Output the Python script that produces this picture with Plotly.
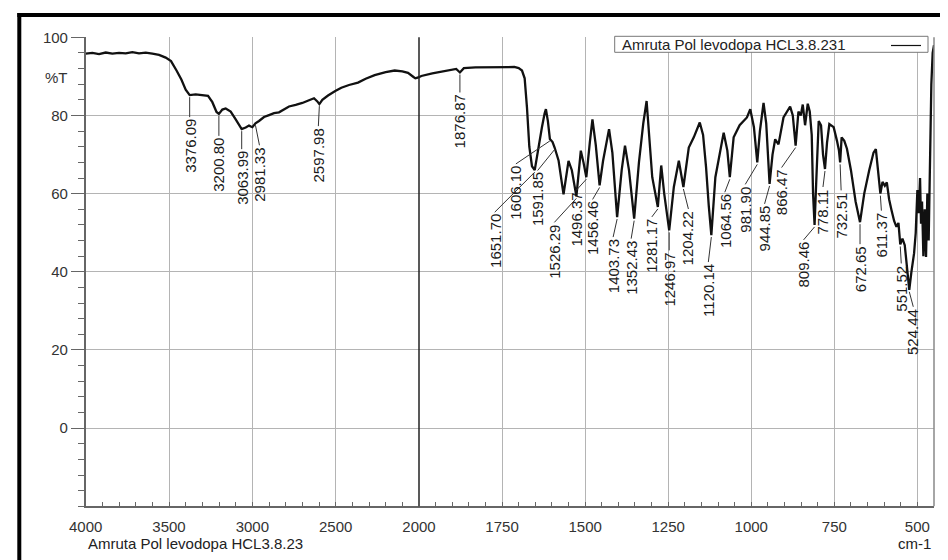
import plotly.graph_objects as go

# ---------------- data ----------------
wavenumber = [
    4000, 3960, 3920, 3880, 3840, 3800, 3760, 3720, 3680, 3640, 3600, 3560, 3520, 3488, 3455, 3426,
    3400, 3376.09, 3340, 3300, 3266, 3240, 3215, 3200.80, 3180, 3160, 3130, 3100, 3063.99, 3040,
    3020, 3000, 2981.33, 2960, 2930, 2900, 2870, 2840, 2810, 2780, 2740, 2700, 2660, 2630, 2610,
    2597.98, 2580, 2546, 2500, 2466, 2420, 2366, 2320, 2266, 2200, 2146, 2100, 2066, 2035, 2022,
    2000, 1993, 1960, 1933, 1900, 1888, 1876.87, 1865, 1830, 1783, 1740, 1713, 1700, 1690, 1682,
    1675, 1668, 1660, 1651.70, 1645, 1638, 1630, 1622, 1618, 1612, 1606.10, 1598, 1591.85, 1580,
    1565, 1550, 1540, 1526.29, 1513, 1505, 1496.37, 1486, 1478, 1468, 1456.46, 1446, 1428, 1418,
    1403.73, 1390, 1380, 1368, 1352.43, 1338, 1325, 1315, 1306, 1298, 1281.17, 1271, 1262, 1246.97,
    1233, 1218, 1204.22, 1188, 1173, 1155, 1145, 1136, 1128, 1120.14, 1108, 1095, 1083, 1072,
    1064.56, 1053, 1035, 1013, 1003, 992, 981.90, 974, 963, 955, 944.85, 936, 928, 918, 903, 883,
    875, 866.47, 858, 851, 845, 838, 830, 824, 818, 814, 809.46, 804, 797, 790, 784, 778.11, 772,
    765, 752, 742, 736, 732.51, 728, 720, 712, 700, 686, 672.65, 660, 645, 632, 625, 618, 611.37,
    605, 598, 592, 585, 578, 570, 563, 557, 551.52, 545, 538, 530, 524.44, 518, 510, 505, 500, 496,
    492, 489, 486, 482, 478, 474, 470, 466, 462, 458, 454, 450,
]
transmittance = [
    95.8, 96.0, 95.7, 96.1, 95.8, 96.0, 95.9, 96.2, 95.9, 96.1, 95.8, 95.5, 94.8, 93.9, 91.5, 89.2,
    86.6, 85.2, 85.4, 85.1, 85.0, 83.4, 80.9, 80.4, 81.5, 81.8, 81.0, 79.0, 76.5, 76.9,
    77.4, 77.0, 78.0, 78.6, 79.6, 80.1, 80.6, 80.8, 81.5, 82.3, 82.7, 83.2, 83.9, 84.4, 83.6,
    82.9, 84.0, 85.1, 86.3, 87.1, 87.8, 88.4, 89.4, 90.3, 91.1, 91.5, 91.3, 90.9, 89.9, 89.5,
    89.8, 90.1, 90.8, 91.2, 91.6, 91.9, 91.0, 92.1, 92.3, 92.4, 92.5, 92.4, 92.1, 91.5, 89.5,
    82.0, 72.0, 67.0, 66.0, 69.5, 73.5, 77.0, 80.5, 81.6, 78.5, 74.0, 73.2, 71.8, 68.5,
    59.8, 68.4, 66.0, 59.3, 71.0, 68.0, 64.2, 73.0, 79.0, 72.5, 62.1, 68.4, 76.5, 70.5,
    54.0, 66.0, 72.3, 66.0, 53.6, 68.0, 78.0, 83.7, 72.0, 64.2, 56.6, 67.2, 60.0, 50.6,
    61.7, 68.4, 61.7, 71.8, 74.4, 78.2, 75.0, 66.7, 57.0, 49.4, 64.2, 70.0, 75.6, 71.0,
    64.2, 74.4, 77.5, 79.5, 81.6, 77.0, 68.0, 76.0, 83.2, 78.0, 62.5, 70.0, 73.9, 72.6, 79.5, 82.3,
    80.0, 72.3, 81.0, 80.0, 82.8, 77.5, 83.0, 81.0, 75.0, 60.0, 52.0, 64.0, 78.6, 77.5, 70.0, 66.3, 73.0,
    77.8, 77.0, 73.5, 71.0, 68.0, 74.4, 73.5, 71.5, 66.0, 58.0, 52.7, 60.0, 66.0, 70.5, 71.4, 66.0, 60.0,
    63.0, 62.0, 62.9, 58.5, 55.8, 53.0, 51.5, 52.5, 47.0, 48.5, 46.8, 40.0, 35.4, 40.0, 44.7, 50.0, 60.9, 55.0,
    64.0, 52.3, 58.0, 44.0, 56.0, 43.8, 60.0, 48.0, 72.0, 88.0, 96.0, 98.0,
]

peak_wavenumbers = [
    3376.09, 3200.80, 3063.99, 2981.33, 2597.98, 1876.87, 1651.70, 1606.10, 1591.85, 1526.29,
    1496.37, 1456.46, 1403.73, 1352.43, 1281.17, 1246.97, 1204.22, 1120.14, 1064.56, 981.90,
    944.85, 866.47, 809.46, 778.11, 732.51, 672.65, 611.37, 551.52, 524.44,
]

x_ticks_left = [4000, 3500, 3000, 2500]
x_ticks_right = [2000, 1750, 1500, 1250, 1000, 750, 500]
y_ticks = [0, 20, 40, 60, 80, 100]
sample_name = "Amruta Pol levodopa HCL3.8.231"
footer_name = "Amruta Pol levodopa HCL3.8.23"
x_unit = "cm-1"
y_title = "%T"

# ---------------- layout settings: pixel offset (dx, dy) from each peak to the top of its label ----------------
label_offsets = [
    (0, 22), (0, 22), (0, 20), (4, 22), (-1, 22), (0, 20), (-40, 42), (-34, 25), (-17, 23), (-22, 26),
    (-10, 13), (-7, 14), (-4, 20), (-3, 20), (-6, 10), (0, 20), (5, 22), (-3, 27), (-5, 15), (-12, 22),
    (-5, 20), (-14, 22), (-11, 15), (-2, 18), (1, 28), (0, 22), (1, 17), (1, 19), (4, 17),
]

W, H = 948, 560
FONT = "Liberation Sans, Arial, sans-serif"
px_x = lambda p: p / W
px_y = lambda p: 1 - p / H

x_left, x_mid, x_right = px_x(77.7), px_x(411.0), px_x(926.0)
y_bot, y_top = px_y(498.3), px_y(29.3)

GRID = "#b4b4b4"
AXIS = "#666666"

fig = go.Figure()
for xa in ("x", "x2"):
    fig.add_trace(go.Scatter(
        x=wavenumber, y=transmittance, mode="lines", xaxis=xa, yaxis="y",
        line=dict(color="#111111", width=2.3), showlegend=False, hoverinfo="x+y",
    ))

common_x = dict(
    ticks="inside", ticklen=5, tickcolor=AXIS, tickwidth=1,
    showline=True, linecolor=AXIS, linewidth=1.5,
    showgrid=True, gridcolor=GRID, gridwidth=1.3, zeroline=False,
    tickfont=dict(family=FONT, size=15, color="#333333"),
    anchor="y", ticklabelstandoff=6,
)
fig.update_layout(
    width=W, height=H,
    margin=dict(l=0, r=0, t=0, b=0, autoexpand=False),
    paper_bgcolor="white", plot_bgcolor="white",
    xaxis=dict(domain=[x_left, x_mid], range=[4000, 2000], tickmode="array", tickvals=x_ticks_left,
               minor=dict(tickmode="linear", tick0=0, dtick=100, ticks="inside", ticklen=5,
                          tickcolor=AXIS, showgrid=False),
               **common_x),
    xaxis2=dict(domain=[x_mid, x_right], range=[2000, 450], tickmode="array", tickvals=x_ticks_right,
                minor=dict(tickmode="linear", tick0=0, dtick=50, ticks="inside", ticklen=5,
                           tickcolor=AXIS, showgrid=False),
                **common_x),
    yaxis=dict(domain=[y_bot, y_top], range=[-20, 100], tickmode="array", tickvals=y_ticks,
               ticks="outside", ticklen=13, tickcolor=AXIS, tickwidth=1,
               showline=True, linecolor=AXIS, linewidth=1.5,
               showgrid=True, gridcolor=GRID, gridwidth=1.3, zeroline=False,
               minor=dict(tickmode="linear", tick0=0, dtick=4, ticks="outside", ticklen=6,
                          tickcolor=AXIS, showgrid=False),
               tickfont=dict(family=FONT, size=15, color="#333333"), anchor="x"),
    font=dict(family=FONT),
)

shapes = [
    # dark break line at 2000 cm-1
    dict(type="line", xref="x2 domain", yref="y domain", x0=0, x1=0, y0=0, y1=1,
         line=dict(color="#222222", width=1.5), layer="above"),
    # right edge of plot
    dict(type="line", xref="x2 domain", yref="y domain", x0=1, x1=1, y0=0, y1=1,
         line=dict(color="#888888", width=1.5), layer="above"),
    # legend box
    dict(type="rect", xref="paper", yref="paper", x0=px_x(606.7), x1=px_x(920), y0=px_y(44.3), y1=px_y(28.3),
         line=dict(color="#777777", width=1), fillcolor="white", layer="above"),
    dict(type="line", xref="paper", yref="paper", x0=px_x(883), x1=px_x(913), y0=px_y(37.5), y1=px_y(37.5),
         line=dict(color="#111111", width=1.2), layer="above"),
    # outer frame
    dict(type="line", xref="paper", yref="paper", x0=px_x(11.3), x1=px_x(11.3), y0=px_y(558), y1=px_y(5),
         line=dict(color="#000000", width=4)),
    dict(type="line", xref="paper", yref="paper", x0=px_x(9.3), x1=1, y0=px_y(7), y1=px_y(7),
         line=dict(color="#000000", width=4)),
    dict(type="line", xref="paper", yref="paper", x0=px_x(946.5), x1=px_x(946.5), y0=px_y(557), y1=px_y(9),
         line=dict(color="#8a8a8a", width=1.5)),
    dict(type="line", xref="paper", yref="paper", x0=px_x(12), x1=px_x(946.5), y0=px_y(557), y1=px_y(557),
         line=dict(color="#8a8a8a", width=1.5)),
]

annotations = [
    dict(xref="paper", yref="paper", x=px_x(612), y=px_y(36.3), xanchor="left", yanchor="middle",
         text=sample_name, showarrow=False, font=dict(family=FONT, size=15, color="#222222")),
    dict(xref="paper", yref="paper", x=px_x(78), y=px_y(535), xanchor="left", yanchor="middle",
         text=footer_name, showarrow=False, font=dict(family=FONT, size=15, color="#222222")),
    dict(xref="paper", yref="paper", x=px_x(925), y=px_y(535), xanchor="right", yanchor="middle",
         text=x_unit, showarrow=False, font=dict(family=FONT, size=15, color="#222222")),
    dict(xref="paper", yref="paper", x=px_x(48), y=px_y(69), xanchor="center", yanchor="middle",
         text=y_title, showarrow=False, font=dict(family=FONT, size=15, color="#333333")),
]

t_lookup = dict(zip(wavenumber, transmittance))
for w, (dx, dy) in zip(peak_wavenumbers, label_offsets):
    xr = "x" if w >= 2000 else "x2"
    t = t_lookup[w]
    # leader line from the peak to the label (pixel-sized, anchored on the data point)
    shapes.append(dict(type="line", xref=xr, yref="y", xsizemode="pixel", ysizemode="pixel",
                       xanchor=w, yanchor=t, x0=0, y0=-2, x1=dx, y1=-dy,
                       line=dict(color="#333333", width=1), layer="above"))
    annotations.append(dict(
        x=w, y=t, xref=xr, yref="y", xshift=dx, yshift=-(dy + 1),
        text=f"{w:.2f}", textangle=-90, showarrow=False,
        xanchor="center", yanchor="top", borderpad=0,
        font=dict(family=FONT, size=15, color="#1a1a1a"),
    ))

fig.update_layout(shapes=shapes, annotations=annotations)
fig.write_html("out.html")
